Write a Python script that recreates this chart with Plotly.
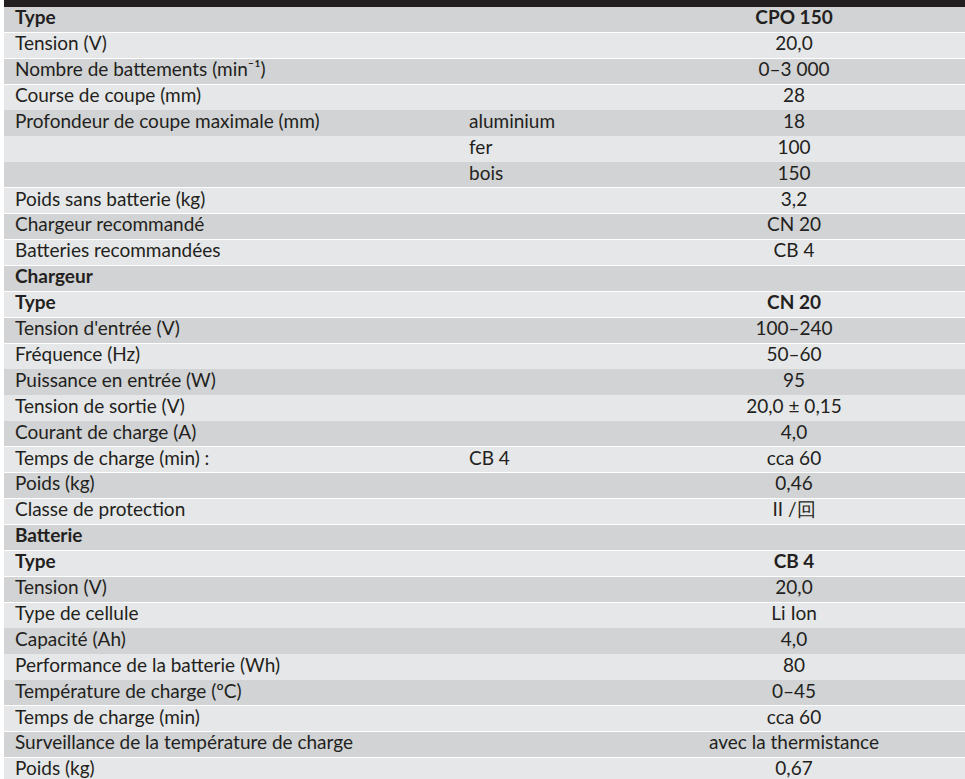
import plotly.graph_objects as go

labels = ["Type", "Tension (V)", "Nombre de battements (min⁻¹)", "Course de coupe (mm)",
          "Profondeur de coupe maximale (mm)", "", "", "Poids sans batterie (kg)",
          "Chargeur recommandé", "Batteries recommandées", "Chargeur", "Type",
          "Tension d'entrée (V)", "Fréquence (Hz)", "Puissance en entrée (W)",
          "Tension de sortie (V)", "Courant de charge (A)", "Temps de charge (min) :",
          "Poids (kg)", "Classe de protection", "Batterie", "Type", "Tension (V)",
          "Type de cellule", "Capacité (Ah)", "Performance de la batterie (Wh)",
          "Température de charge (ºC)", "Temps de charge (min)",
          "Surveillance de la température de charge", "Poids (kg)"]
sublabels = ["", "", "", "", "aluminium", "fer", "bois", "", "", "", "", "", "", "", "",
             "", "", "CB 4", "", "", "", "", "", "", "", "", "", "", "", ""]
values = ["CPO 150", "20,0", "0–3 000", "28", "18", "100", "150", "3,2", "CN 20", "CB 4",
          "", "CN 20", "100–240", "50–60", "95", "20,0 ± 0,15", "4,0", "cca 60", "0,46",
          "II /回", "", "CB 4", "20,0", "Li Ion", "4,0", "80", "0–45", "cca 60",
          "avec la thermistance", "0,67"]
bold_rows = [0, 10, 11, 20, 21]

DARK = "#d1d3d4"
LIGHT = "#e6e7e8"
INK = "#231f20"

W, H = 965, 779
ML = 4
TOP = 6.5          # height of the black band at the top
ROWH = 25.9        # row height in pixels
n = len(labels)

centers = [TOP + ROWH * (i + 0.5) for i in range(n)]
fills = [DARK if i % 2 == 0 else LIGHT for i in range(n)]
full = W - ML

def fmt(col):
    return [f"<b>{t}</b>" if (i in bold_rows and t) else t for i, t in enumerate(col)]

fig = go.Figure()
# black top band
fig.add_trace(go.Bar(orientation="h", y=[TOP / 2], x=[full + ML], base=[-ML], width=[TOP],
                     marker=dict(color=INK, line=dict(width=0)), hoverinfo="skip",
                     showlegend=False))
# row backgrounds
fig.add_trace(go.Bar(orientation="h", y=centers, x=[full] * n, base=[0] * n,
                     width=[ROWH - 0.7] * n,
                     marker=dict(color=fills, line=dict(width=0)), hoverinfo="skip",
                     showlegend=False))
font = dict(family="Lato", size=19, color=INK)
fig.add_trace(go.Scatter(x=[11] * n, y=centers, mode="text", text=fmt(labels),
                         textposition="middle right", textfont=font,
                         hoverinfo="skip", showlegend=False))
fig.add_trace(go.Scatter(x=[465] * n, y=centers, mode="text", text=fmt(sublabels),
                         textposition="middle right", textfont=font,
                         hoverinfo="skip", showlegend=False))
fig.add_trace(go.Scatter(x=[790] * n, y=centers, mode="text", text=fmt(values),
                         textposition="middle center", textfont=font,
                         hoverinfo="skip", showlegend=False))

fig.update_layout(width=W, height=H, margin=dict(l=ML, r=0, t=0, b=0),
                  paper_bgcolor="white", plot_bgcolor="white", bargap=0,
                  barmode="overlay")
fig.update_xaxes(range=[0, full], visible=False, fixedrange=True)
fig.update_yaxes(range=[H, 0], visible=False, fixedrange=True)
fig.write_html("out.html", config={"displayModeBar": False})

# remove the browser's default page margin so the figure sits at the window's corner
with open("out.html", encoding="utf-8") as f:
    html = f.read()
html = html.replace("<head>", "<head><style>html,body{margin:0;padding:0;overflow:hidden;}</style>", 1)
with open("out.html", "w", encoding="utf-8") as f:
    f.write(html)
